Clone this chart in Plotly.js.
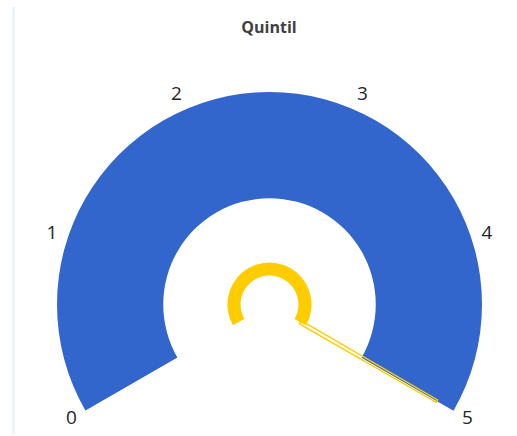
<!DOCTYPE html>
<html><head><meta charset="utf-8">
<script src="https://cdn.plot.ly/plotly-3.0.1.min.js"></script>
<style>html,body{margin:0;padding:0;background:#fff}#chart{width:517px;height:436px}</style>
</head><body><div id="chart"></div>
<script>
// ---- data ----
const chartTitle = 'Quintil';
const gaugeRange = [0, 5];
const tickValues = [0, 1, 2, 3, 4, 5];
const tickLabels = ['0', '1', '2', '3', '4', '5'];
const progressValue = [5];
const needleValue = [5];

// ---- scale: value -> angular position (degrees along the 240° dial) ----
const SWEEP = 240;
const toTheta = v => (v - gaugeRange[0]) / (gaugeRange[1] - gaugeRange[0]) * SWEEP;

const W = 517, H = 436;
const BLUE = '#3366CC', YELLOW = '#FFCC00';
const RMAX = 1.09;             // radial range extends beyond the dial to hold the labels
const CX = 269.5, CY = 304.5, RPX = 212.5 * RMAX;
const SECTOR = [-34, 210];     // a little wider than the dial so the needle outline is not clipped
const lowY = -Math.sin(SECTOR[0] * Math.PI / 180);

const band = {
  type: 'barpolar',
  r: [0.5], base: [0.5],
  theta: [toTheta(gaugeRange[1]) / 2],
  width: [toTheta(gaugeRange[1])],
  marker: {color: BLUE, line: {width: 0}},
  hoverinfo: 'skip'
};

const progress = {
  type: 'barpolar',
  r: [0.062], base: [0.136],
  theta: progressValue.map(v => toTheta(v) / 2),
  width: progressValue.map(v => toTheta(v)),
  marker: {color: YELLOW, line: {width: 0}},
  hoverinfo: 'skip'
};

const nt = toTheta(needleValue[0]);
const needle = {
  type: 'scatterpolar',
  mode: 'lines',
  r: [0.168, 0.91, 0.91, 0.168, 0.168],
  theta: [nt - 3, nt - 0.4, nt + 0.4, nt + 3, nt - 3],
  line: {color: YELLOW, width: 1.4},
  cliponaxis: false,
  hoverinfo: 'skip'
};

const labels = {
  type: 'scatterpolar',
  mode: 'text',
  r: tickValues.map(() => 1.076),
  theta: tickValues.map(toTheta),
  text: tickLabels,
  textposition: 'middle center',
  textfont: {family: 'Open Sans, sans-serif', size: 19, color: '#252423'},
  cliponaxis: false,
  hoverinfo: 'skip'
};

const layout = {
  width: W, height: H,
  margin: {l: 0, r: 0, t: 0, b: 0},
  paper_bgcolor: '#ffffff',
  showlegend: false,
  title: {
    text: '<b>' + chartTitle + '</b>',
    x: 269 / W, xanchor: 'center',
    y: 1 - 27 / H, yanchor: 'middle',
    font: {family: 'Open Sans, sans-serif', size: 16, color: '#404040'}
  },
  polar: {
    domain: {
      x: [(CX - RPX) / W, (CX + RPX) / W],
      y: [Math.max(0, 1 - (CY + lowY * RPX) / H), 1 - (CY - RPX) / H]
    },
    sector: SECTOR,
    hole: 0,
    bgcolor: 'rgba(0,0,0,0)',
    radialaxis: {range: [0, RMAX], visible: false, showgrid: false},
    angularaxis: {
      direction: 'clockwise', rotation: 210,
      showticklabels: false,
      showgrid: false, showline: false, ticks: ''
    }
  },
  shapes: [{
    type: 'line', xref: 'paper', yref: 'paper',
    x0: 13.5 / W, x1: 13.5 / W, y0: 1 - 435 / H, y1: 1 - 7 / H,
    line: {color: '#eef2f9', width: 3}
  }]
};

Plotly.newPlot('chart', [band, progress, needle, labels], layout, {displayModeBar: false, staticPlot: true});
</script>
</body></html>
